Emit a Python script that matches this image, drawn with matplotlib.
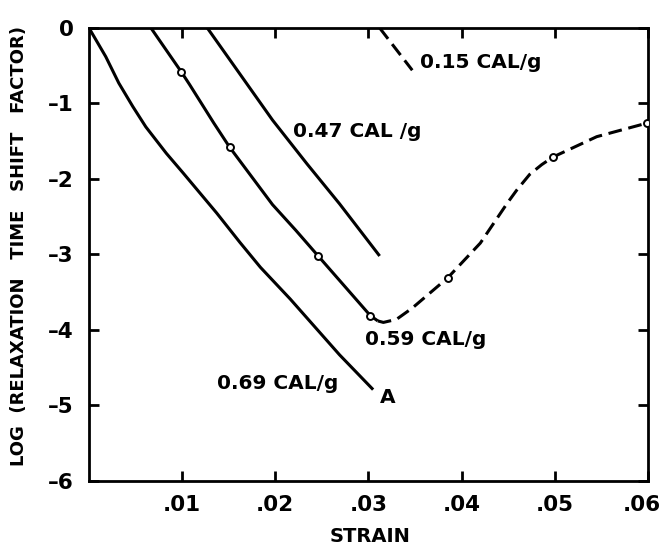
import matplotlib
matplotlib.use("Agg")
from matplotlib import pyplot as plt
from matplotlib import transforms

# Curves (strain, log shift factor)
strain_069 = [0.0, 0.0018, 0.0032, 0.0047, 0.0061, 0.0083, 0.0101, 0.0137, 0.0162,
              0.0184, 0.0216, 0.0269, 0.0305]
shift_069 = [0.0, -0.38, -0.73, -1.04, -1.31, -1.66, -1.92, -2.45, -2.84,
             -3.17, -3.59, -4.33, -4.79]

strain_059 = [0.00665, 0.0099, 0.0108, 0.0134, 0.0151, 0.0197, 0.0222, 0.0246, 0.0302, 0.0310]
shift_059 = [0.0, -0.58, -0.75, -1.26, -1.58, -2.34, -2.68, -3.02, -3.81, -3.88]

strain_059_dash = [0.0310, 0.0316, 0.0330, 0.0347, 0.0385, 0.0420, 0.0449, 0.0459,
                   0.0473, 0.0486, 0.0498, 0.0545, 0.0599]
shift_059_dash = [-3.88, -3.90, -3.86, -3.71, -3.31, -2.85, -2.32, -2.15,
                  -1.94, -1.81, -1.71, -1.44, -1.26]

strain_047 = [0.0127, 0.0162, 0.0197, 0.0234, 0.0269, 0.0312]
shift_047 = [0.0, -0.61, -1.22, -1.80, -2.33, -3.02]

strain_015 = [0.0312, 0.0347]
shift_015 = [0.0, -0.56]

# measured points (open circles)
pts_strain = [0.0099, 0.0151, 0.0246, 0.0302, 0.0385, 0.0498, 0.0599]
pts_shift = [-0.58, -1.58, -3.02, -3.81, -3.31, -1.71, -1.26]

xticks = [0.01, 0.02, 0.03, 0.04, 0.05, 0.06]
xticklabels = ['.01', '.02', '.03', '.04', '.05', '.06']
yticks = [0, -1, -2, -3, -4, -5, -6]
yticklabels = ['0', '–1', '–2', '–3', '–4', '–5', '–6']

labels = [
    (0.0355, -0.53, '0.15 CAL/g'),
    (0.0219, -1.44, '0.47 CAL /g'),
    (0.0296, -4.20, '0.59 CAL/g'),
    (0.0137, -4.78, '0.69 CAL/g'),
    (0.0312, -4.97, 'A'),
]

plt.rcParams['font.family'] = ['DejaVu Sans']

fig = plt.figure(figsize=(6.65, 5.47), dpi=100)
ax = fig.add_axes([0.1338, 0.1207, 0.8406, 0.8282])

lw = 2.2
ax.plot(strain_069, shift_069, color='black', lw=lw, solid_capstyle='butt')
ax.plot(strain_059, shift_059, color='black', lw=lw, solid_capstyle='butt')
ax.plot(strain_059_dash, shift_059_dash, color='black', lw=lw, dashes=(4.5, 2.2))
ax.plot(strain_047, shift_047, color='black', lw=lw, solid_capstyle='butt')
ax.plot(strain_015, shift_015, color='black', lw=lw, dashes=(4.5, 2.2))
ax.plot(pts_strain, pts_shift, 'o', color='black', markerfacecolor='white',
        markersize=5, markeredgewidth=1.4, zorder=5)

for x, y, s in labels:
    ax.text(x, y, s, ha='left', va='baseline', fontsize=14.5, fontweight='bold')

ax.set_xlim(0, 0.06)
ax.set_ylim(-6, 0)
ax.set_xticks(xticks)
ax.set_xticklabels(xticklabels)
ax.set_yticks(yticks)
ax.set_yticklabels(yticklabels)
ax.tick_params(direction='in', length=7, width=2, top=True, right=True,
               labelsize=15.5)
ax.tick_params(axis='x', pad=10)
ax.tick_params(axis='y', pad=11)
for lab in ax.get_xticklabels() + ax.get_yticklabels():
    lab.set_fontweight('bold')
for sp in ax.spines.values():
    sp.set_linewidth(2)

# pull the last x label in so it stays on the canvas
last = ax.get_xticklabels()[-1]
last.set_transform(last.get_transform() +
                   transforms.ScaledTranslation(-6 / 100, 0, fig.dpi_scale_trans))

fig.text(370 / 665, 1 - 537 / 547, 'STRAIN', ha='center', va='center',
         fontsize=14, fontweight='bold')
fig.text(19 / 665, 1 - 246 / 547, 'LOG  (RELAXATION   TIME   SHIFT   FACTOR)',
         ha='center', va='center', rotation=90, fontsize=13, fontweight='bold')

fig.savefig('out.png', dpi=100)
